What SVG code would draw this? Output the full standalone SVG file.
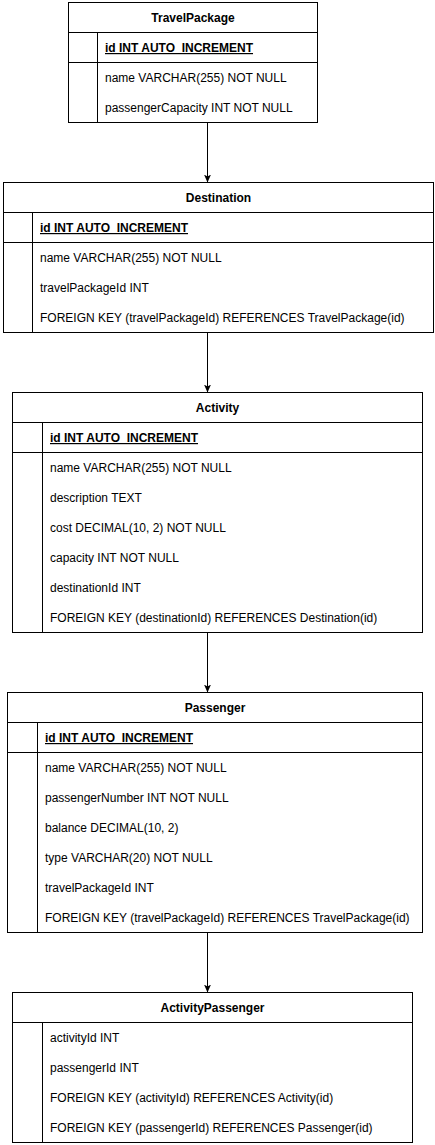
<svg xmlns="http://www.w3.org/2000/svg" width="435" height="1145" viewBox="0 0 435 1145">
<defs>
<style>
.box{fill:#fff;stroke:#000;stroke-width:1}
.ln{stroke:#000;stroke-width:1;fill:none}
.t{font-family:"Liberation Sans",Arial,sans-serif;font-size:12px;fill:#000}
.h{font-weight:bold;text-anchor:middle}
.pk{font-weight:bold;text-decoration:underline}
</style>
<marker id="arr" markerWidth="8" markerHeight="8" viewBox="0 0 8 8" refX="8" refY="4" orient="auto" markerUnits="userSpaceOnUse">
<path d="M0,0.5 L8,4 L0,7.5 L2,4 Z" fill="#000"/>
</marker>
</defs>
<rect width="435" height="1145" fill="#fff"/>
<g id="connectors">
<line class="ln" x1="207.5" y1="122.5" x2="207.5" y2="182.5" marker-end="url(#arr)"/>
<line class="ln" x1="207.5" y1="332.5" x2="207.5" y2="392.5" marker-end="url(#arr)"/>
<line class="ln" x1="207.5" y1="632.5" x2="207.5" y2="692.5" marker-end="url(#arr)"/>
<line class="ln" x1="207.5" y1="932.5" x2="207.5" y2="992.5" marker-end="url(#arr)"/>
</g>
<g id="TravelPackage">
<rect class="box" x="68.5" y="2.5" width="249" height="120"/>
<line class="ln" x1="68.5" y1="32.5" x2="317.5" y2="32.5"/>
<line class="ln" x1="68.5" y1="62.5" x2="317.5" y2="62.5"/>
<line class="ln" x1="97.5" y1="32.5" x2="97.5" y2="122.5"/>
<text class="t h" x="193" y="22">TravelPackage</text>
<text class="t pk" x="105" y="52">id INT AUTO_INCREMENT</text>
<text class="t" x="105" y="82">name VARCHAR(255) NOT NULL</text>
<text class="t" x="105" y="112">passengerCapacity INT NOT NULL</text>
</g>
<g id="Destination">
<rect class="box" x="3.5" y="182.5" width="430" height="150"/>
<line class="ln" x1="3.5" y1="212.5" x2="433.5" y2="212.5"/>
<line class="ln" x1="3.5" y1="242.5" x2="433.5" y2="242.5"/>
<line class="ln" x1="32.5" y1="212.5" x2="32.5" y2="332.5"/>
<text class="t h" x="218.5" y="202">Destination</text>
<text class="t pk" x="40" y="232">id INT AUTO_INCREMENT</text>
<text class="t" x="40" y="262">name VARCHAR(255) NOT NULL</text>
<text class="t" x="40" y="292">travelPackageId INT</text>
<text class="t" x="40" y="322">FOREIGN KEY (travelPackageId) REFERENCES TravelPackage(id)</text>
</g>
<g id="Activity">
<rect class="box" x="12.5" y="392.5" width="410" height="240"/>
<line class="ln" x1="12.5" y1="422.5" x2="422.5" y2="422.5"/>
<line class="ln" x1="12.5" y1="452.5" x2="422.5" y2="452.5"/>
<line class="ln" x1="42.5" y1="422.5" x2="42.5" y2="632.5"/>
<text class="t h" x="217.5" y="412">Activity</text>
<text class="t pk" x="50" y="442">id INT AUTO_INCREMENT</text>
<text class="t" x="50" y="472">name VARCHAR(255) NOT NULL</text>
<text class="t" x="50" y="502">description TEXT</text>
<text class="t" x="50" y="532">cost DECIMAL(10, 2) NOT NULL</text>
<text class="t" x="50" y="562">capacity INT NOT NULL</text>
<text class="t" x="50" y="592">destinationId INT</text>
<text class="t" x="50" y="622">FOREIGN KEY (destinationId) REFERENCES Destination(id)</text>
</g>
<g id="Passenger">
<rect class="box" x="7.5" y="692.5" width="415" height="240"/>
<line class="ln" x1="7.5" y1="722.5" x2="422.5" y2="722.5"/>
<line class="ln" x1="7.5" y1="752.5" x2="422.5" y2="752.5"/>
<line class="ln" x1="37.5" y1="722.5" x2="37.5" y2="932.5"/>
<text class="t h" x="215" y="712">Passenger</text>
<text class="t pk" x="45" y="742">id INT AUTO_INCREMENT</text>
<text class="t" x="45" y="772">name VARCHAR(255) NOT NULL</text>
<text class="t" x="45" y="802">passengerNumber INT NOT NULL</text>
<text class="t" x="45" y="832">balance DECIMAL(10, 2)</text>
<text class="t" x="45" y="862">type VARCHAR(20) NOT NULL</text>
<text class="t" x="45" y="892">travelPackageId INT</text>
<text class="t" x="45" y="922">FOREIGN KEY (travelPackageId) REFERENCES TravelPackage(id)</text>
</g>
<g id="ActivityPassenger">
<rect class="box" x="12.5" y="992.5" width="400" height="150"/>
<line class="ln" x1="12.5" y1="1022.5" x2="412.5" y2="1022.5"/>
<line class="ln" x1="42.5" y1="1022.5" x2="42.5" y2="1142.5"/>
<text class="t h" x="212.5" y="1012">ActivityPassenger</text>
<text class="t" x="50" y="1042">activityId INT</text>
<text class="t" x="50" y="1072">passengerId INT</text>
<text class="t" x="50" y="1102">FOREIGN KEY (activityId) REFERENCES Activity(id)</text>
<text class="t" x="50" y="1132">FOREIGN KEY (passengerId) REFERENCES Passenger(id)</text>
</g>
</svg>
